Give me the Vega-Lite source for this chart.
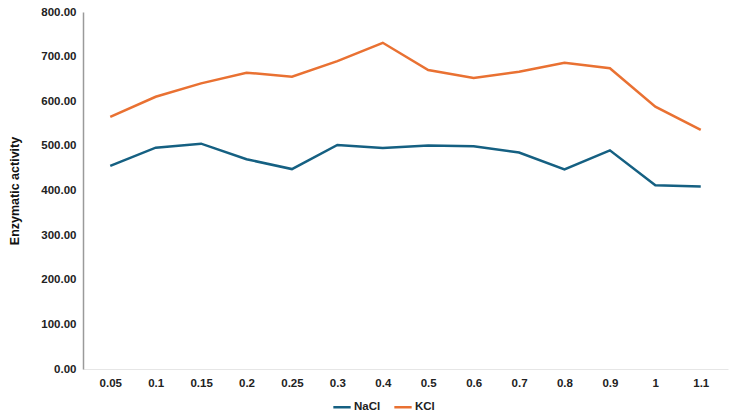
{
  "$schema": "https://vega.github.io/schema/vega-lite/v6.json",
  "width": 645,
  "height": 357,
  "autosize": {"type": "none"},
  "padding": {"left": 83, "top": 12, "right": 5, "bottom": 48},
  "background": "white",
  "config": {
    "view": {"stroke": null},
    "font": "Liberation Sans"
  },
  "data": {
    "values": [
      {"conc": "0.05", "salt": "NaCl", "activity": 455},
      {"conc": "0.1", "salt": "NaCl", "activity": 496},
      {"conc": "0.15", "salt": "NaCl", "activity": 505},
      {"conc": "0.2", "salt": "NaCl", "activity": 470},
      {"conc": "0.25", "salt": "NaCl", "activity": 448},
      {"conc": "0.3", "salt": "NaCl", "activity": 502},
      {"conc": "0.4", "salt": "NaCl", "activity": 495},
      {"conc": "0.5", "salt": "NaCl", "activity": 501},
      {"conc": "0.6", "salt": "NaCl", "activity": 499},
      {"conc": "0.7", "salt": "NaCl", "activity": 485},
      {"conc": "0.8", "salt": "NaCl", "activity": 447},
      {"conc": "0.9", "salt": "NaCl", "activity": 490},
      {"conc": "1", "salt": "NaCl", "activity": 412},
      {"conc": "1.1", "salt": "NaCl", "activity": 409},
      {"conc": "0.05", "salt": "KCl", "activity": 565},
      {"conc": "0.1", "salt": "KCl", "activity": 610},
      {"conc": "0.15", "salt": "KCl", "activity": 640},
      {"conc": "0.2", "salt": "KCl", "activity": 664},
      {"conc": "0.25", "salt": "KCl", "activity": 655},
      {"conc": "0.3", "salt": "KCl", "activity": 690},
      {"conc": "0.4", "salt": "KCl", "activity": 731},
      {"conc": "0.5", "salt": "KCl", "activity": 670},
      {"conc": "0.6", "salt": "KCl", "activity": 652},
      {"conc": "0.7", "salt": "KCl", "activity": 666},
      {"conc": "0.8", "salt": "KCl", "activity": 686},
      {"conc": "0.9", "salt": "KCl", "activity": 674},
      {"conc": "1", "salt": "KCl", "activity": 588},
      {"conc": "1.1", "salt": "KCl", "activity": 536}
    ]
  },
  "mark": {"type": "line", "strokeWidth": 2.5},
  "encoding": {
    "x": {
      "field": "conc",
      "type": "ordinal",
      "sort": null,
      "scale": {"type": "point", "padding": 0.6},
      "axis": {
        "title": null,
        "labelAngle": 0,
        "labelFontWeight": "bold",
        "labelFontSize": 11.5,
        "labelColor": "#222222",
        "labelPadding": 8,
        "ticks": false,
        "domainColor": "#e6e6e6",
        "domainWidth": 1,
        "grid": false
      }
    },
    "y": {
      "field": "activity",
      "type": "quantitative",
      "scale": {"domain": [0, 800]},
      "axis": {
        "title": "Enzymatic activity",
        "titleFontSize": 12.5,
        "titleFontWeight": "bold",
        "titleColor": "#111111",
        "titlePadding": 19,
        "values": [0, 100, 200, 300, 400, 500, 600, 700, 800],
        "format": ".2f",
        "labelFontWeight": "bold",
        "labelFontSize": 11.5,
        "labelColor": "#222222",
        "labelPadding": 7,
        "ticks": false,
        "grid": false,
        "domainColor": "#9a9a9a",
        "domainWidth": 1.5
      }
    },
    "color": {
      "field": "salt",
      "type": "nominal",
      "scale": {"domain": ["NaCl", "KCl"], "range": ["#156082", "#E97132"]},
      "legend": {
        "title": null,
        "orient": "none",
        "legendX": 249,
        "legendY": 385,
        "direction": "horizontal",
        "symbolType": "stroke",
        "symbolStrokeWidth": 2.5,
        "symbolSize": 300,
        "labelFontWeight": "bold",
        "labelFontSize": 11.5,
        "labelColor": "#222222",
        "labelOffset": 2,
        "columnPadding": 8
      }
    }
  }
}
